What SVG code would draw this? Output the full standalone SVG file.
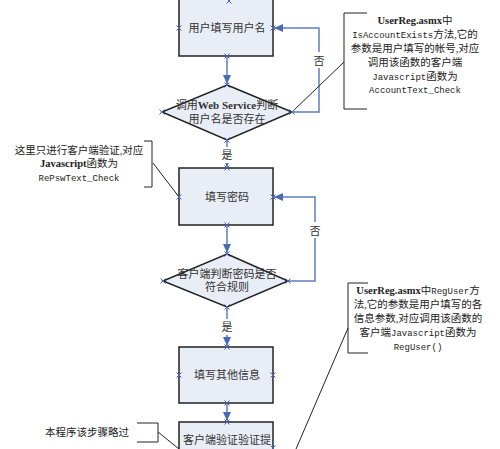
<svg xmlns="http://www.w3.org/2000/svg" xmlns:xlink="http://www.w3.org/1999/xlink" width="500" height="449" viewBox="0 0 500 449">
<style>
.box{fill:#e9edf5;stroke:#222;stroke-width:1.5}
.con{fill:none;stroke:#5b7fc0;stroke-width:1.5}
.call{fill:none;stroke:#222;stroke-width:1}
.t{font-family:"Liberation Serif","Noto Sans CJK SC",serif;font-size:11px;fill:#333;text-anchor:middle}
.c{font-family:"Liberation Serif","Noto Sans CJK SC",serif;font-size:10.5px;fill:#222;text-anchor:middle}
.b{font-weight:bold}
.m{font-family:"Liberation Mono",monospace;font-size:9px}
.xm{stroke:#4a5fc0;stroke-width:1;fill:none}
</style>
<defs>
<marker id="ah" markerWidth="10" markerHeight="10" refX="9" refY="5" orient="auto" markerUnits="userSpaceOnUse">
<path d="M0,1 L9,5 L0,9 Z" fill="#4a6ab8"/>
</marker>
<path id="x" class="xm" d="M-2.5,-2.5 L2.5,2.5 M-2.5,2.5 L2.5,-2.5"/>
</defs>

<g id="connectors">
<path class="con" d="M227,56 L227,84" marker-end="url(#ah)"/>
<path class="con" d="M292,112 L319,112 L319,28 L274,28" marker-end="url(#ah)"/>
<path class="con" d="M227,140 L227,167" marker-end="url(#ah)"/>
<path class="con" d="M227,225 L227,253" marker-end="url(#ah)"/>
<path class="con" d="M288,281 L315,281 L315,197 L274,197" marker-end="url(#ah)"/>
<path class="con" d="M227,307 L227,346" marker-end="url(#ah)"/>
<path class="con" d="M227,403 L227,421" marker-end="url(#ah)"/>
<rect x="312" y="52" width="14" height="16" fill="#fff"/>
<text class="t" x="319" y="65">否</text>
<rect x="308" y="222" width="14" height="16" fill="#fff"/>
<text class="t" x="315" y="235">否</text>
<rect x="220" y="147" width="14" height="16" fill="#fff"/>
<text class="t" x="227" y="159">是</text>
<rect x="220" y="319" width="14" height="16" fill="#fff"/>
<text class="t" x="227" y="331">是</text>
<path class="call" d="M292,112 L344,62"/>
<path class="call" d="M153,163 L179,197"/>
<path class="call" d="M158,432 L179,449"/>
<path class="call" d="M348,328 L296,449"/>
</g>

<g id="box1">
<rect class="box" x="179" y="-10" width="94" height="66"/>
<text class="t" x="227" y="32">用户填写用户名</text>
</g>
<g id="diamond1">
<path class="box" d="M227,85 L292,112 L227,140 L162,112 Z"/>
<text class="t" x="227" y="109">调用<tspan class="b">Web Service</tspan>判断</text>
<text class="t" x="227" y="123">用户名是否存在</text>
</g>
<g id="box2">
<rect class="box" x="179" y="168" width="94" height="57"/>
<text class="t" x="227" y="201">填写密码</text>
</g>
<g id="diamond2">
<path class="box" d="M227,254 L288,281 L227,307 L163,281 Z"/>
<text class="t" x="227" y="278">客户端判断密码是否</text>
<text class="t" x="227" y="291">符合规则</text>
</g>
<g id="box3">
<rect class="box" x="179" y="347" width="94" height="56"/>
<text class="t" x="227" y="379">填写其他信息</text>
</g>
<g id="box4">
<rect class="box" x="179" y="422" width="94" height="40"/>
<text class="t" x="227" y="444">客户端验证验证提</text>
</g>

<g id="xmarks">
<use href="#x" x="229" y="1"/><use href="#x" x="179" y="28"/><use href="#x" x="273" y="28"/><use href="#x" x="227" y="56"/>
<use href="#x" x="227" y="85"/><use href="#x" x="162" y="112"/><use href="#x" x="292" y="112"/><use href="#x" x="227" y="140"/>
<use href="#x" x="227" y="168"/><use href="#x" x="179" y="197"/><use href="#x" x="273" y="197"/><use href="#x" x="227" y="225"/>
<use href="#x" x="227" y="254"/><use href="#x" x="163" y="281"/><use href="#x" x="288" y="281"/><use href="#x" x="227" y="307"/>
<use href="#x" x="227" y="347"/><use href="#x" x="179" y="375"/><use href="#x" x="273" y="375"/><use href="#x" x="227" y="403"/>
<use href="#x" x="227" y="422"/><use href="#x" x="273" y="448"/>
</g>

<g id="note1">
<path class="call" d="M367,13 L344,13 L344,109 L367,109"/>
<text class="c" x="415" y="24"><tspan class="b">UserReg.asmx</tspan>中</text>
<text class="c" x="415" y="38"><tspan class="m">IsAccountExists</tspan>方法,它的</text>
<text class="c" x="415" y="52">参数是用户填写的帐号,对应</text>
<text class="c" x="415" y="66">调用该函数的客户端</text>
<text class="c" x="415" y="80"><tspan class="m">Javascript</tspan>函数为</text>
<text class="c" x="415" y="93"><tspan class="m">AccountText_Check</tspan></text>
</g>
<g id="note2">
<path class="call" d="M144,141 L152,141 L152,187 L144,187"/>
<text class="c" x="79" y="154">这里只进行客户端验证,对应</text>
<text class="c" x="79" y="167"><tspan class="b">Javascript</tspan>函数为</text>
<text class="c" x="79" y="181"><tspan class="m">RePswText_Check</tspan></text>
</g>
<g id="note3">
<path class="call" d="M368,283 L348,283 L348,353 L368,353"/>
<text class="c" x="418" y="294"><tspan class="b">UserReg.asmx</tspan>中<tspan class="m">RegUser</tspan>方</text>
<text class="c" x="418" y="308">法,它的参数是用户填写的各</text>
<text class="c" x="418" y="322">信息参数,对应调用该函数的</text>
<text class="c" x="418" y="336">客户端<tspan class="m">Javascript</tspan>函数为</text>
<text class="c" x="418" y="350"><tspan class="m">RegUser()</tspan></text>
</g>
<g id="note4">
<path class="call" d="M137,423 L158,423 L158,442 L137,442"/>
<text class="c" x="87" y="436">本程序该步骤略过</text>
</g>
</svg>
